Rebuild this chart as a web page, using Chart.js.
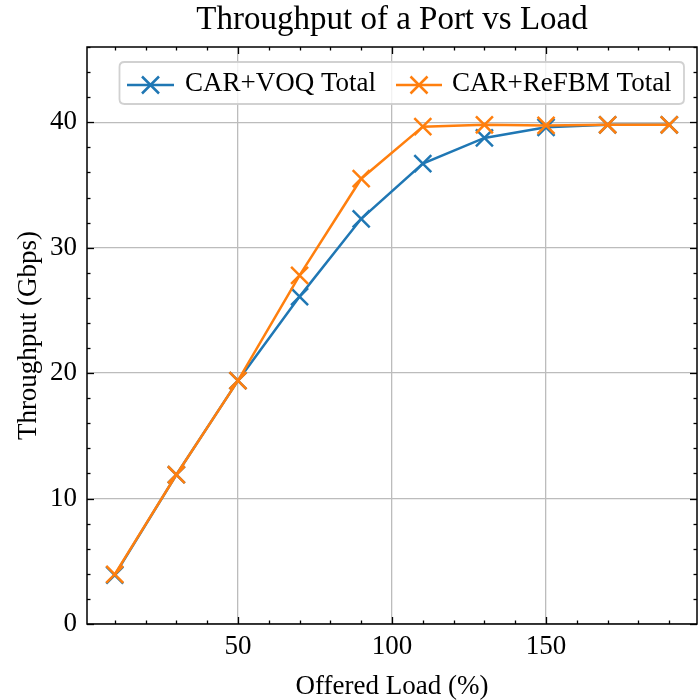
<!DOCTYPE html>
<html>
<head>
<meta charset="utf-8">
<script src="https://cdn.jsdelivr.net/npm/chart.js@4.4.1/dist/chart.umd.min.js"></script>
<style>
  html, body { margin: 0; padding: 0; background: #ffffff; }
  #wrap { width: 698px; height: 700px; }
</style>
</head>
<body>
<div id="wrap"><canvas id="c" width="698" height="700"></canvas></div>
<script>
// ---- data ----
const offeredLoad = [10, 30, 50, 70, 90, 110, 130, 150, 170, 190];
const voqTotal    = [3.9, 11.9, 19.4, 26.1, 32.3, 36.7, 38.75, 39.6, 39.8, 39.8];
const refbmTotal  = [3.95, 11.9, 19.4, 27.8, 35.5, 39.65, 39.8, 39.75, 39.8, 39.8];
const seriesNames = ['CAR+VOQ Total', 'CAR+ReFBM Total'];
const xTickValues = [50, 100, 150];
const yTickValues = [0, 10, 20, 30, 40];
const titleText = 'Throughput of a Port vs Load';
const xTitle = 'Offered Load (%)';
const yTitle = 'Throughput (Gbps)';

const BLUE = '#1f77b4';
const ORANGE = '#ff7f0e';
const FONT = '"Liberation Serif", "Times New Roman", serif';

function toPoints(xs, ys) { return xs.map((x, i) => ({ x: x, y: ys[i] })); }

// inward ticks on all four sides + frame
const framePlugin = {
  id: 'frameTicks',
  afterDatasetsDraw(chart) {
    const { ctx, chartArea: { left, right, top, bottom }, scales: { x, y } } = chart;
    ctx.save();
    ctx.strokeStyle = '#000';
    ctx.lineWidth = 1.3;
    const seg = (x1, y1, x2, y2) => { ctx.beginPath(); ctx.moveTo(x1, y1); ctx.lineTo(x2, y2); ctx.stroke(); };
    for (let v = 10; v < x.max; v += 10) {
      const px = Math.round(x.getPixelForValue(v)) + 0.5;
      const L = (v % 50 === 0) ? 7 : 3.5;
      seg(px, bottom, px, bottom - L);
      seg(px, top, px, top + L);
    }
    for (let v = 0; v <= y.max; v += 2) {
      const py = Math.round(y.getPixelForValue(v)) + 0.5;
      const L = (v % 10 === 0) ? 7 : 3.5;
      seg(left, py, left + L, py);
      seg(right, py, right - L, py);
    }
    ctx.lineWidth = 1.5;
    ctx.strokeRect(left, top, right - left, bottom - top);
    ctx.restore();
  }
};

// matplotlib-like legend inside the axes, upper right
const legendPlugin = {
  id: 'innerLegend',
  afterDraw(chart) {
    const ctx = chart.ctx;
    const bx = 119.5, by = 62, bw = 564.5, bh = 42, r = 5;
    ctx.save();
    ctx.beginPath();
    ctx.moveTo(bx + r, by);
    ctx.lineTo(bx + bw - r, by);
    ctx.quadraticCurveTo(bx + bw, by, bx + bw, by + r);
    ctx.lineTo(bx + bw, by + bh - r);
    ctx.quadraticCurveTo(bx + bw, by + bh, bx + bw - r, by + bh);
    ctx.lineTo(bx + r, by + bh);
    ctx.quadraticCurveTo(bx, by + bh, bx, by + bh - r);
    ctx.lineTo(bx, by + r);
    ctx.quadraticCurveTo(bx, by, bx + r, by);
    ctx.closePath();
    ctx.fillStyle = 'rgba(255,255,255,0.8)';
    ctx.fill();
    ctx.strokeStyle = 'rgba(204,204,204,0.9)';
    ctx.lineWidth = 1.8;
    ctx.stroke();

    const items = [
      { color: BLUE, x0: 127, x1: 174, text: seriesNames[0], tx: 185 },
      { color: ORANGE, x0: 396, x1: 442, text: seriesNames[1], tx: 452 }
    ];
    const ly = 85;
    items.forEach(it => {
      ctx.strokeStyle = it.color;
      ctx.lineWidth = 2.5;
      ctx.beginPath(); ctx.moveTo(it.x0, ly); ctx.lineTo(it.x1, ly); ctx.stroke();
      const cx = (it.x0 + it.x1) / 2, h = 8.5;
      ctx.beginPath();
      ctx.moveTo(cx - h, ly - h); ctx.lineTo(cx + h, ly + h);
      ctx.moveTo(cx - h, ly + h); ctx.lineTo(cx + h, ly - h);
      ctx.stroke();
      ctx.fillStyle = '#000';
      ctx.font = '27px ' + FONT;
      ctx.textBaseline = 'middle';
      ctx.textAlign = 'left';
      ctx.fillText(it.text, it.tx, 84);
    });
    ctx.restore();
  }
};

const chart = new Chart(document.getElementById('c'), {
  type: 'line',
  data: {
    datasets: [
      {
        label: seriesNames[0],
        data: toPoints(offeredLoad, voqTotal),
        order: 1,
        borderColor: BLUE,
        backgroundColor: BLUE,
        borderWidth: 2.5,
        pointStyle: 'crossRot',
        pointRadius: 12,
        pointBorderWidth: 2.5,
        pointBorderColor: BLUE,
        tension: 0,
        fill: false
      },
      {
        label: seriesNames[1],
        data: toPoints(offeredLoad, refbmTotal),
        order: 0,
        borderColor: ORANGE,
        backgroundColor: ORANGE,
        borderWidth: 2.5,
        pointStyle: 'crossRot',
        pointRadius: 12,
        pointBorderWidth: 2.5,
        pointBorderColor: ORANGE,
        tension: 0,
        fill: false
      }
    ]
  },
  options: {
    responsive: false,
    animation: false,
    devicePixelRatio: 1,
    events: [],
    layout: { autoPadding: false, padding: { left: 0, right: 1, top: 0, bottom: 0 } },
    plugins: {
      legend: { display: false },
      tooltip: { enabled: false },
      title: {
        display: true,
        text: titleText,
        fullSize: false,
        color: '#000',
        font: { family: FONT, size: 33, weight: 'normal', lineHeight: 1 },
        padding: { top: 4, bottom: 10 }
      }
    },
    scales: {
      x: {
        type: 'linear',
        min: 1,
        max: 199,
        afterBuildTicks: (s) => { s.ticks = xTickValues.map(v => ({ value: v })); },
        afterFit: (s) => { s.height = 76; },
        grid: { color: '#bcbcbc', lineWidth: 1.3, drawTicks: false },
        border: { display: false },
        ticks: {
          color: '#000',
          padding: 7,
          maxRotation: 0,
          font: { family: FONT, size: 27 }
        },
        title: {
          display: true,
          text: xTitle,
          color: '#000',
          font: { family: FONT, size: 27, lineHeight: 1 },
          padding: { top: 0, bottom: 0 }
        }
      },
      y: {
        type: 'linear',
        min: 0,
        max: 46,
        afterBuildTicks: (s) => { s.ticks = yTickValues.map(v => ({ value: v })); },
        afterFit: (s) => { s.width = 87; },
        grid: { color: '#bcbcbc', lineWidth: 1.3, drawTicks: false },
        border: { display: false },
        ticks: {
          color: '#000',
          padding: 10,
          font: { family: FONT, size: 27 }
        },
        title: {
          display: true,
          text: yTitle,
          color: '#000',
          font: { family: FONT, size: 27, lineHeight: 1 },
          padding: { top: 15, bottom: 0 }
        }
      }
    }
  },
  plugins: [framePlugin, legendPlugin]
});
</script>
</body>
</html>
